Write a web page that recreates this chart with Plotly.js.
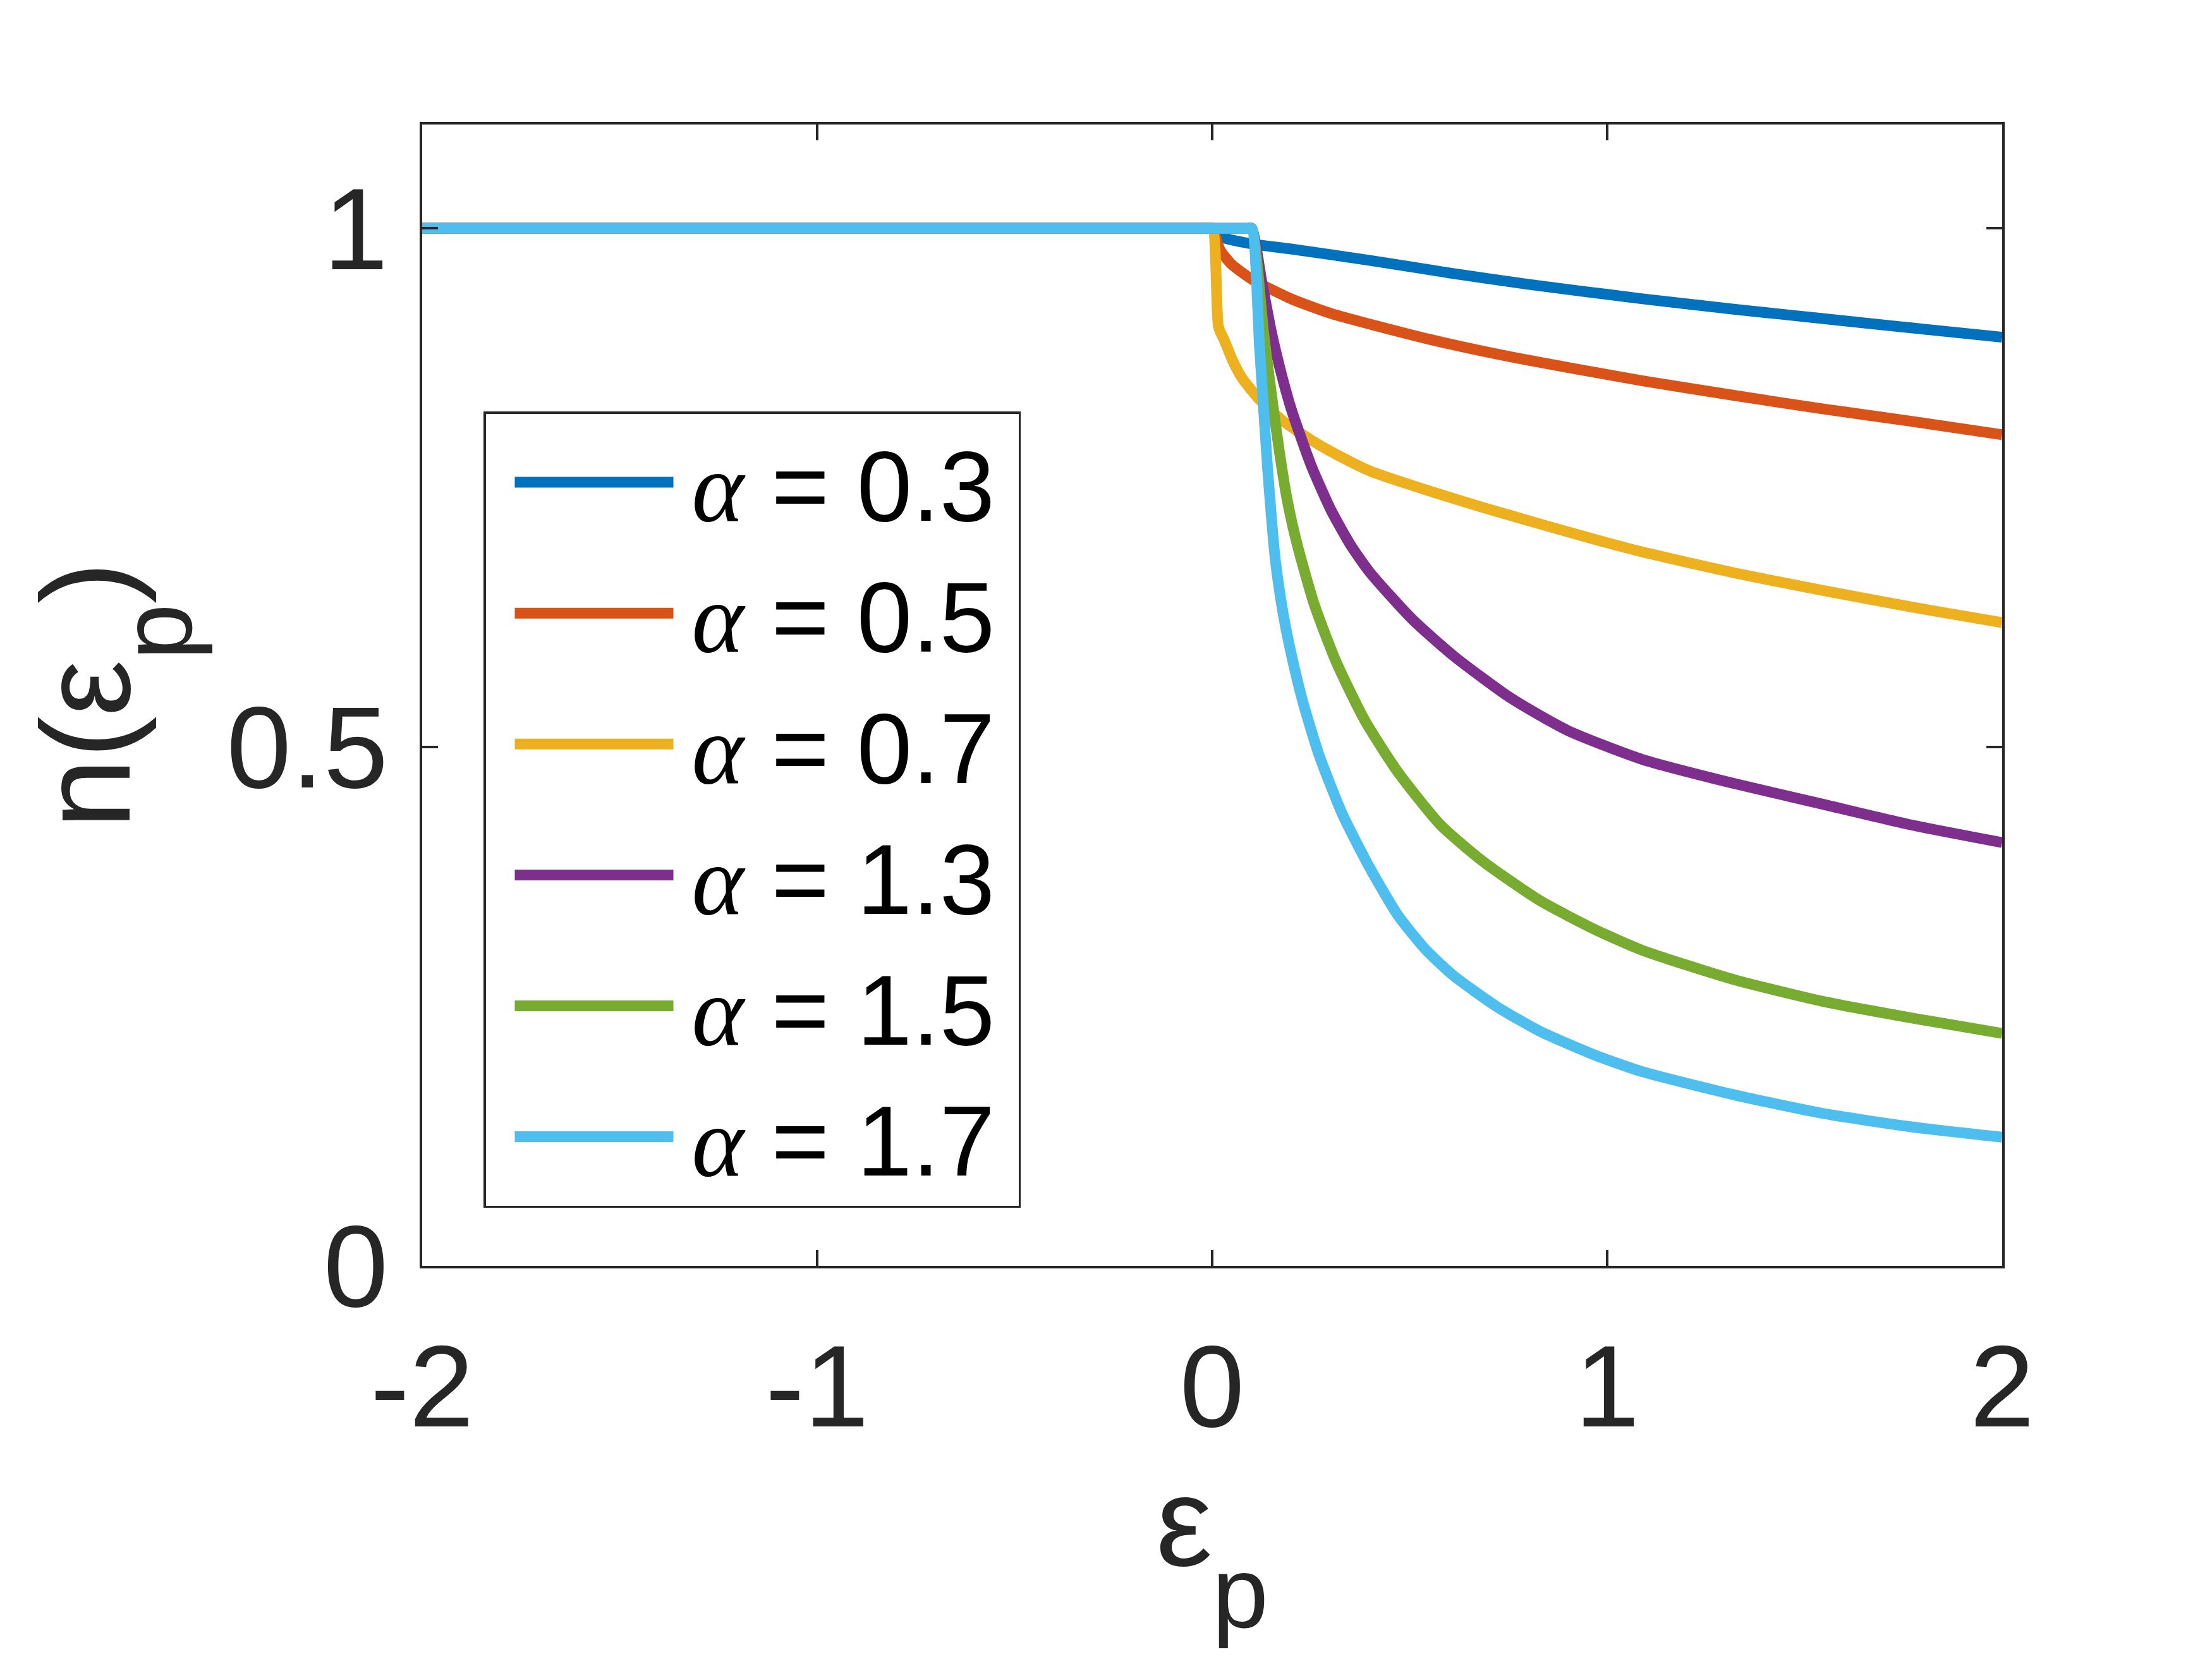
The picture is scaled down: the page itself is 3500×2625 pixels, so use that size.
<!DOCTYPE html>
<html>
<head>
<meta charset="utf-8">
<script src="https://cdn.plot.ly/plotly-3.0.1.min.js"></script>
<style>
  html, body { margin: 0; padding: 0; background: #fff; }
  #chart { width: 3500px; height: 2625px; }
</style>
</head>
<body>
<div id="chart"></div>
<script>
  // values
  const alphaLabels = ['0.3', '0.5', '0.7', '1.3', '1.5', '1.7'];
  const lineColors = ['#0072BD', '#D95319', '#EDB120', '#7E2F8E', '#77AC30', '#4DBEEE'];

  const xA03 = [-2, -0.02, 0, 0.02, 0.1, 0.2, 0.4, 0.6, 0.8, 1.09, 1.32, 1.545, 1.77, 2];
  const yA03 = [1, 1, 1, 0.992, 0.985, 0.98, 0.969, 0.957, 0.946, 0.932, 0.922, 0.913, 0.904, 0.895];

  const xA05 = [-2, -0.02, 0, 0.02, 0.05, 0.1, 0.2, 0.3, 0.55, 0.77, 1.09, 1.32, 1.545, 1.77, 2];
  const yA05 = [1, 1, 1, 0.979, 0.965, 0.951, 0.932, 0.918, 0.893, 0.875, 0.853, 0.839, 0.826, 0.814, 0.801];

  const xA07 = [-2, -0.02, 0, 0.016, 0.032, 0.05, 0.075, 0.117, 0.15, 0.18, 0.25, 0.3, 0.4, 0.54, 0.685, 0.83, 0.97, 1.09, 1.32, 1.545, 1.77, 2];
  const yA07 = [1, 1, 1, 0.905, 0.891, 0.874, 0.856, 0.836, 0.824, 0.814, 0.796, 0.785, 0.766, 0.748, 0.731, 0.715, 0.7, 0.688, 0.668, 0.651, 0.635, 0.62];

  const xA13 = [-2, 0.09, 0.1, 0.125, 0.15, 0.175, 0.2, 0.25, 0.3, 0.35, 0.4, 0.507, 0.614, 0.757, 0.9, 1.09, 1.32, 1.545, 1.77, 2];
  const yA13 = [1, 1, 1, 0.95, 0.9, 0.86, 0.826, 0.772, 0.729, 0.695, 0.668, 0.623, 0.587, 0.547, 0.516, 0.488, 0.465, 0.445, 0.425, 0.408];

  const xA15 = [-2, 0.09, 0.1, 0.13, 0.15, 0.17, 0.19, 0.214, 0.258, 0.314, 0.386, 0.47, 0.578, 0.685, 0.83, 0.97, 1.09, 1.32, 1.545, 1.77, 2];
  const yA15 = [1, 1, 1, 0.9, 0.84, 0.785, 0.738, 0.697, 0.638, 0.582, 0.526, 0.476, 0.425, 0.39, 0.352, 0.324, 0.304, 0.276, 0.255, 0.239, 0.224];

  const xA17 = [-2, 0.09, 0.1, 0.12, 0.14, 0.16, 0.18, 0.2, 0.23, 0.27, 0.33, 0.4, 0.47, 0.54, 0.61, 0.72, 0.83, 0.97, 1.09, 1.32, 1.545, 1.77, 2];
  const yA17 = [1, 1, 1, 0.885, 0.77, 0.68, 0.628, 0.59, 0.543, 0.493, 0.435, 0.383, 0.338, 0.305, 0.28, 0.25, 0.226, 0.203, 0.187, 0.165, 0.147, 0.134, 0.124];

  const xTicks = [-2, -1, 0, 1, 2];
  const xTickText = ['-2', '-1', '0', '1', '2'];
  const yTicks = [0, 0.5, 1];
  const yTickText = ['0', '0.5', '1'];

  const xs = [xA03, xA05, xA07, xA13, xA15, xA17];
  const ys = [yA03, yA05, yA07, yA13, yA15, yA17];

  const LW = 17;
  const data = alphaLabels.map((a, i) => ({
    x: xs[i],
    y: ys[i],
    type: 'scatter',
    mode: 'lines',
    name: '<span style="font-family:Liberation Serif"><i>α</i></span> = ' + a + '\u2009',
    line: { color: lineColors[i], width: LW, shape: 'spline', smoothing: 0.6 }
  }));

  const axisCol = '#262626';
  const sansFam = 'Liberation Sans, Arial, sans-serif';
  const tickFont = { family: sansFam, size: 184, color: axisCol };
  const sub = t => '<span style="font-size:160px;baseline-shift:-98px">' + t + '</span>';

  const layout = {
    width: 3500,
    height: 2625,
    margin: { l: 668, r: 332, t: 197, b: 622 },
    paper_bgcolor: '#fff',
    plot_bgcolor: '#fff',
    showlegend: true,
    xaxis: {
      range: [-2, 2],
      tickvals: xTicks,
      ticktext: xTickText,
      ticks: 'inside',
      ticklen: 25,
      tickwidth: 4,
      tickcolor: axisCol,
      showline: true,
      linecolor: axisCol,
      linewidth: 4,
      mirror: 'ticks',
      showgrid: false,
      zeroline: false,
      tickfont: tickFont,
      ticklabelstandoff: 29,
      automargin: false,
      title: {
        text: 'ε' + sub('p'),
        font: { family: sansFam, size: 200, color: axisCol },
        standoff: 22
      }
    },
    yaxis: {
      range: [0, 1.1],
      tickvals: yTicks,
      ticktext: yTickText,
      ticks: 'inside',
      ticklen: 25,
      tickwidth: 4,
      tickcolor: axisCol,
      showline: true,
      linecolor: axisCol,
      linewidth: 4,
      mirror: 'ticks',
      showgrid: false,
      zeroline: false,
      tickfont: tickFont,
      ticklabelstandoff: 13,
      automargin: false,
      title: {
        text: 'n(ε' + sub('p') + ')',
        font: { family: sansFam, size: 200, color: axisCol },
        standoff: 85
      }
    },
    legend: {
      x: 0.0388,
      y: 0.7486,
      xanchor: 'left',
      yanchor: 'top',
      bgcolor: '#fff',
      bordercolor: axisCol,
      borderwidth: 3.5,
      itemwidth: 316,
      font: { family: sansFam, size: 157, color: '#000' }
    }
  };

  // stretch the legend line samples to the long MATLAB-style strokes
  function stretchLegend(gd) {
    gd.querySelectorAll('.legend .legendlines path').forEach(p => {
      p.setAttribute('d', 'M46,0h251');
      p.style.strokeWidth = LW + 'px';
    });
  }

  Plotly.newPlot('chart', data, layout, { staticPlot: true }).then(gd => {
    stretchLegend(gd);
    gd.on('plotly_afterplot', () => stretchLegend(gd));
  });
</script>
</body>
</html>
